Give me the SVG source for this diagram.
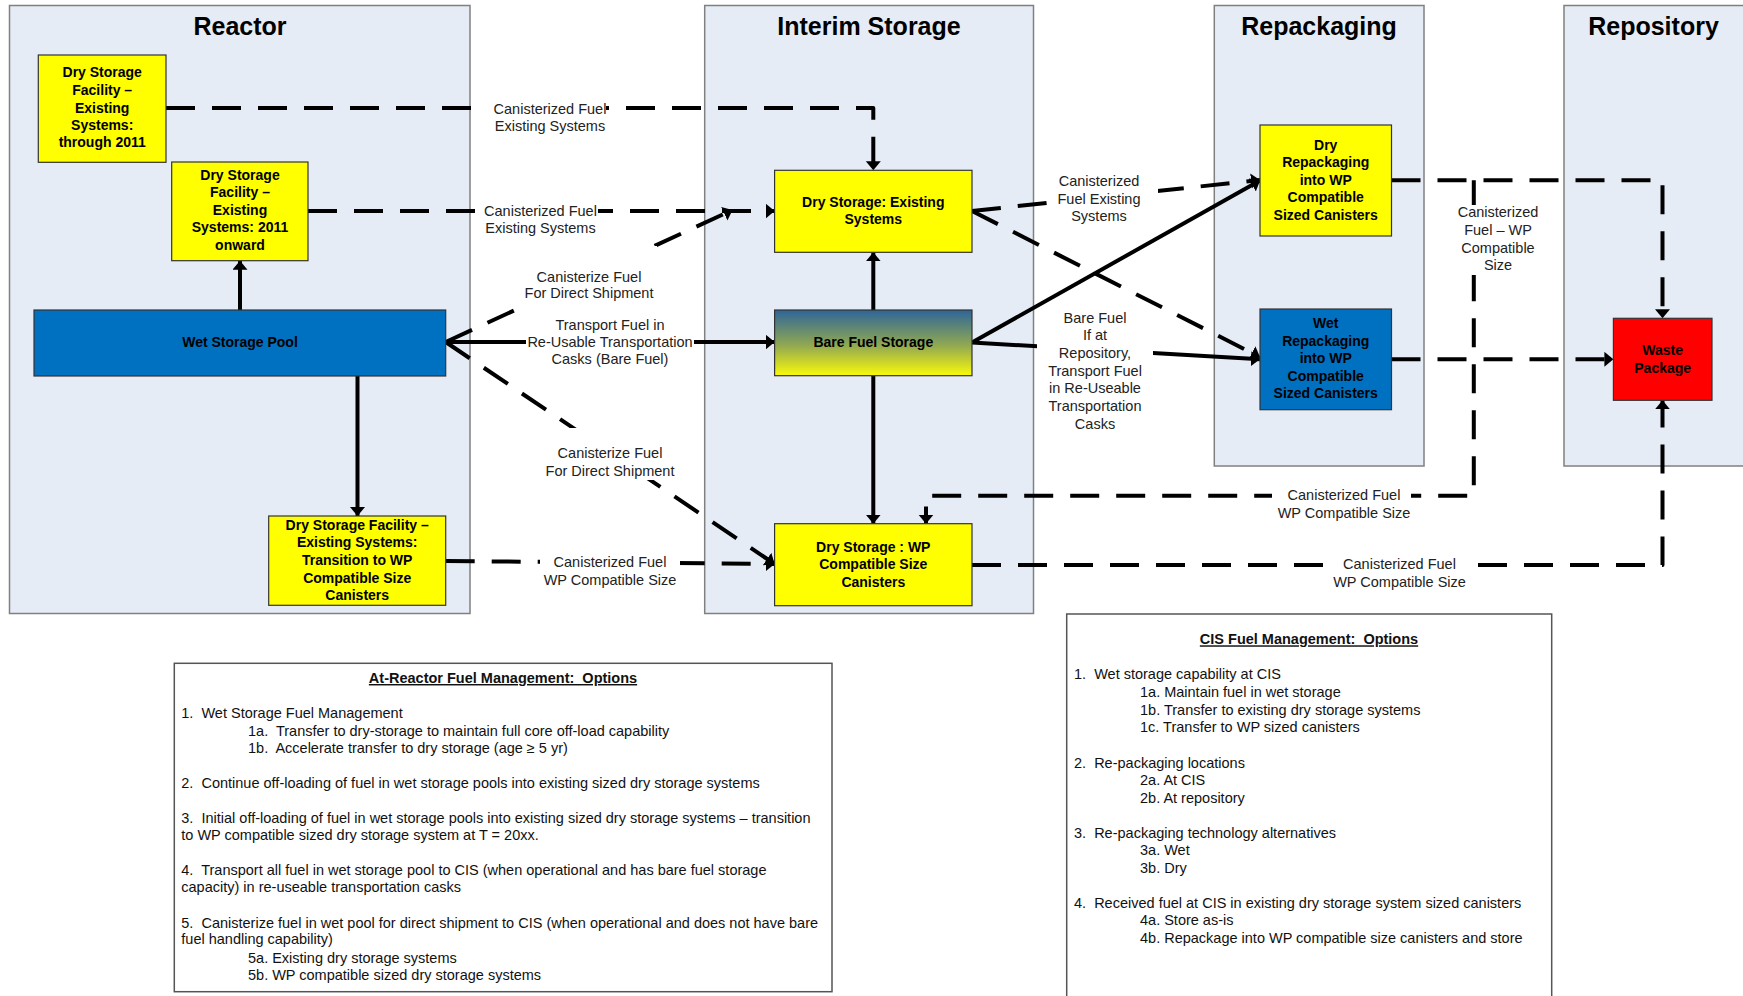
<svg xmlns="http://www.w3.org/2000/svg" width="1743" height="996" viewBox="0 0 1743 996">
<style>
.panel{fill:#e6ecf6;stroke:#808080;stroke-width:1.5}
.ttl{font-family:"Liberation Sans",Arial,sans-serif;font-size:25px;font-weight:bold;text-anchor:middle;fill:#000}
.yel{fill:#ffff00;stroke:#333;stroke-width:1.2}
.blu{fill:#0070c0;stroke:#333;stroke-width:1.2}
.red{fill:#ff0000;stroke:#333;stroke-width:1.2}
.nt{font-family:"Liberation Sans",Arial,sans-serif;font-size:14px;font-weight:bold;text-anchor:middle;fill:#000}
.ln{fill:none;stroke:#000;stroke-width:4;marker-end:url(#arr)}
.ds{stroke-dasharray:29 17;stroke-linejoin:round}
.bg{fill:#fff}
.lb{font-family:"Liberation Sans",Arial,sans-serif;font-size:14.5px;text-anchor:middle;fill:#222}
.note{fill:#fff;stroke:#555;stroke-width:1.5}
.nx{font-family:"Liberation Sans",Arial,sans-serif;font-size:14.5px;fill:#111;white-space:pre}
.nh{font-family:"Liberation Sans",Arial,sans-serif;font-size:14.5px;font-weight:bold;text-anchor:middle;text-decoration:underline;fill:#111;white-space:pre}
</style>
<defs>
<marker id="arr" markerUnits="userSpaceOnUse" markerWidth="10" markerHeight="16" refX="9" refY="7.5" orient="auto">
<path d="M0,0 L9,7.5 L0,15 z" fill="#000"/>
</marker>
<linearGradient id="bare" x1="0" y1="0" x2="0" y2="1">
<stop offset="0" stop-color="#2e6598"/>
<stop offset="0.55" stop-color="#93aa50"/>
<stop offset="1" stop-color="#fafa0a"/>
</linearGradient>
</defs>
<rect width="1743" height="996" fill="#fff"/>

<g id="panels">
<rect class="panel" x="9.5" y="5.5" width="460.5" height="608"/>
<text class="ttl" x="240" y="35">Reactor</text>
<rect class="panel" x="704.7" y="5.5" width="328.8" height="608"/>
<text class="ttl" x="869" y="35">Interim Storage</text>
<rect class="panel" x="1214.3" y="5.5" width="209.7" height="460.5"/>
<text class="ttl" x="1319" y="35">Repackaging</text>
<rect class="panel" x="1564" y="5.5" width="190" height="460.5"/>
<text class="ttl" x="1653.5" y="35">Repository</text>
</g>

<g id="connectors">
<path id="c-a" class="ln ds" d="M166,108 H873.3 V170.3"/>
<path id="c-b" class="ln ds" d="M308,211 H774.6"/>
<path id="c-c" class="ln ds" d="M445.7,342 L732.5,210"/>
<path id="c-d" class="ln" d="M445.7,342 H774.6"/>
<path id="c-e" class="ln ds" d="M445.7,342 L774.6,564"/>
<path id="c-f" class="ln ds" d="M445.7,561 L774.6,564"/>
<path id="c-g" class="ln" d="M873.3,310 V252.3"/>
<path id="c-h" class="ln" d="M873.3,375.7 V523.7"/>
<path id="c-i" class="ln" d="M240,310 V260.7"/>
<path id="c-j" class="ln" d="M357.5,376 V516"/>
<path id="c-k" class="ln ds" d="M1391.5,180.3 H1662.5 V318.3"/>
<path id="c-l" class="ln ds" d="M1391.5,359.3 H1613.4"/>
<path id="c-m" class="ln ds" d="M1473.8,180.3 V495.7 H926 V523.7"/>
<path id="c-n" class="ln ds" d="M972,565 H1662.5 V400.3"/>
<path id="c-o" class="ln ds" d="M972,211 L1260,180"/>
<path id="c-p" class="ln ds" d="M972,211 L1260,357"/>
<path id="c-q" class="ln" d="M972,342.5 L1260,180.5"/>
<path id="c-r" class="ln" d="M972,342.5 L1260,359.3"/>
<g id="connector-labels">
<rect class="bg" x="484" y="97" width="122" height="38"/>
<text class="lb" x="550" y="114">Canisterized Fuel</text>
<text class="lb" x="550" y="131">Existing Systems</text>
<rect class="bg" x="480" y="200" width="118" height="38"/>
<text class="lb" x="540.5" y="216">Canisterized Fuel</text>
<text class="lb" x="540.5" y="233">Existing Systems</text>
<rect class="bg" x="515" y="246" width="142" height="64"/>
<text class="lb" x="589" y="282">Canisterize Fuel</text>
<text class="lb" x="589" y="298">For Direct Shipment</text>
<rect class="bg" x="526" y="318" width="168" height="52"/>
<text class="lb" x="610" y="330">Transport Fuel in</text>
<text class="lb" x="610" y="347">Re-Usable Transportation</text>
<text class="lb" x="610" y="364">Casks (Bare Fuel)</text>
<rect class="bg" x="545" y="428" width="130" height="52"/>
<text class="lb" x="610" y="458">Canisterize Fuel</text>
<text class="lb" x="610" y="476">For Direct Shipment</text>
<rect class="bg" x="540" y="550" width="140" height="40"/>
<text class="lb" x="610" y="567">Canisterized Fuel</text>
<text class="lb" x="610" y="584.5">WP Compatible Size</text>
<rect class="bg" x="1047" y="168" width="111" height="58"/>
<text class="lb" x="1099" y="186">Canisterized</text>
<text class="lb" x="1099" y="203.5">Fuel Existing</text>
<text class="lb" x="1099" y="221">Systems</text>
<rect class="bg" x="1037" y="310" width="116" height="124"/>
<text class="lb" x="1095" y="323">Bare Fuel</text>
<text class="lb" x="1095" y="340">If at</text>
<text class="lb" x="1095" y="358">Repository,</text>
<text class="lb" x="1095" y="375.5">Transport Fuel</text>
<text class="lb" x="1095" y="393">in Re-Useable</text>
<text class="lb" x="1095" y="411">Transportation</text>
<text class="lb" x="1095" y="428.5">Casks</text>
<rect class="bg" x="1456" y="205" width="84" height="70"/>
<text class="lb" x="1498" y="217">Canisterized</text>
<text class="lb" x="1498" y="235">Fuel – WP</text>
<text class="lb" x="1498" y="252.5">Compatible</text>
<text class="lb" x="1498" y="270">Size</text>
<rect class="bg" x="1272" y="484" width="139" height="38"/>
<text class="lb" x="1344" y="499.5">Canisterized Fuel</text>
<text class="lb" x="1344" y="517.5">WP Compatible Size</text>
<rect class="bg" x="1332" y="553" width="136" height="38"/>
<text class="lb" x="1399.5" y="568.5">Canisterized Fuel</text>
<text class="lb" x="1399.5" y="586.5">WP Compatible Size</text>
</g>
</g>

<g id="dry-storage-through-2011">
<rect class="yel" x="38.3" y="55" width="127.7" height="107.3"/>
<text class="nt" x="102.2" y="77.3">Dry Storage</text>
<text class="nt" x="102.2" y="95">Facility –</text>
<text class="nt" x="102.2" y="112.7">Existing</text>
<text class="nt" x="102.2" y="130">Systems:</text>
<text class="nt" x="102.2" y="147.3">through 2011</text>
</g>
<g id="dry-storage-2011-onward">
<rect class="yel" x="171.7" y="162" width="136.3" height="98.7"/>
<text class="nt" x="240" y="180">Dry Storage</text>
<text class="nt" x="240" y="197.3">Facility –</text>
<text class="nt" x="240" y="215">Existing</text>
<text class="nt" x="240" y="232.3">Systems: 2011</text>
<text class="nt" x="240" y="250">onward</text>
</g>
<g id="wet-storage-pool">
<rect class="blu" x="34" y="310" width="411.7" height="66"/>
<text class="nt" x="240" y="346.7">Wet Storage Pool</text>
</g>
<g id="dry-storage-transition">
<rect class="yel" x="268.7" y="516" width="177" height="89.3"/>
<text class="nt" x="357.2" y="530">Dry Storage Facility –</text>
<text class="nt" x="357.2" y="547.3">Existing Systems:</text>
<text class="nt" x="357.2" y="565">Transition to WP</text>
<text class="nt" x="357.2" y="582.7">Compatible Size</text>
<text class="nt" x="357.2" y="600">Canisters</text>
</g>
<g id="dry-storage-existing">
<rect class="yel" x="774.6" y="170.3" width="197.4" height="82"/>
<text class="nt" x="873.3" y="206.7">Dry Storage: Existing</text>
<text class="nt" x="873.3" y="224">Systems</text>
</g>
<g id="bare-fuel-storage">
<rect x="774.6" y="310" width="197.4" height="65.7" fill="url(#bare)" stroke="#333" stroke-width="1.2"/>
<text class="nt" x="873.3" y="346.7">Bare Fuel Storage</text>
</g>
<g id="dry-storage-wp">
<rect class="yel" x="774.6" y="523.7" width="197.4" height="82"/>
<text class="nt" x="873.3" y="551.7">Dry Storage : WP</text>
<text class="nt" x="873.3" y="569">Compatible Size</text>
<text class="nt" x="873.3" y="586.7">Canisters</text>
</g>
<g id="dry-repackaging">
<rect class="yel" x="1260" y="125" width="131.5" height="111"/>
<text class="nt" x="1325.7" y="150">Dry</text>
<text class="nt" x="1325.7" y="167.3">Repackaging</text>
<text class="nt" x="1325.7" y="185">into WP</text>
<text class="nt" x="1325.7" y="202.3">Compatible</text>
<text class="nt" x="1325.7" y="220">Sized Canisters</text>
</g>
<g id="wet-repackaging">
<rect class="blu" x="1260" y="309" width="131.5" height="100.7"/>
<text class="nt" x="1325.7" y="328.3">Wet</text>
<text class="nt" x="1325.7" y="346">Repackaging</text>
<text class="nt" x="1325.7" y="363.3">into WP</text>
<text class="nt" x="1325.7" y="381">Compatible</text>
<text class="nt" x="1325.7" y="398.3">Sized Canisters</text>
</g>
<g id="waste-package">
<rect class="red" x="1613.4" y="318.3" width="98.6" height="82"/>
<text class="nt" x="1662.7" y="355">Waste</text>
<text class="nt" x="1662.7" y="372.7">Package</text>
</g>

<g id="at-reactor-options">
<rect class="note" x="174.3" y="663.3" width="657.7" height="328.4"/>
<text class="nh" x="503" y="683">At-Reactor Fuel Management:  Options</text>
<text class="nx" x="181.3" y="718">1.  Wet Storage Fuel Management</text>
<text class="nx" x="248" y="736">1a.  Transfer to dry-storage to maintain full core off-load capability</text>
<text class="nx" x="248" y="752.7">1b.  Accelerate transfer to dry storage (age ≥ 5 yr)</text>
<text class="nx" x="181.3" y="788.3">2.  Continue off-loading of fuel in wet storage pools into existing sized dry storage systems</text>
<text class="nx" x="181.3" y="823.3">3.  Initial off-loading of fuel in wet storage pools into existing sized dry storage systems – transition</text>
<text class="nx" x="181.3" y="840">to WP compatible sized dry storage system at T = 20xx.</text>
<text class="nx" x="181.3" y="875">4.  Transport all fuel in wet storage pool to CIS (when operational and has bare fuel storage</text>
<text class="nx" x="181.3" y="892.3">capacity) in re-useable transportation casks</text>
<text class="nx" x="181.3" y="927.7">5.  Canisterize fuel in wet pool for direct shipment to CIS (when operational and does not have bare</text>
<text class="nx" x="181.3" y="944.3">fuel handling capability)</text>
<text class="nx" x="248" y="963.3">5a. Existing dry storage systems</text>
<text class="nx" x="248" y="980">5b. WP compatible sized dry storage systems</text>
</g>

<g id="cis-options">
<rect class="note" x="1066.7" y="614" width="485" height="400"/>
<text class="nh" x="1309" y="644.3">CIS Fuel Management:  Options</text>
<text class="nx" x="1074" y="679.3">1.  Wet storage capability at CIS</text>
<text class="nx" x="1140" y="697.3">1a. Maintain fuel in wet storage</text>
<text class="nx" x="1140" y="714.7">1b. Transfer to existing dry storage systems</text>
<text class="nx" x="1140" y="732.3">1c. Transfer to WP sized canisters</text>
<text class="nx" x="1074" y="767.7">2.  Re-packaging locations</text>
<text class="nx" x="1140" y="784.7">2a. At CIS</text>
<text class="nx" x="1140" y="802.7">2b. At repository</text>
<text class="nx" x="1074" y="837.7">3.  Re-packaging technology alternatives</text>
<text class="nx" x="1140" y="855.3">3a. Wet</text>
<text class="nx" x="1140" y="872.7">3b. Dry</text>
<text class="nx" x="1074" y="907.7">4.  Received fuel at CIS in existing dry storage system sized canisters</text>
<text class="nx" x="1140" y="925">4a. Store as-is</text>
<text class="nx" x="1140" y="942.7">4b. Repackage into WP compatible size canisters and store</text>
</g>
</svg>
